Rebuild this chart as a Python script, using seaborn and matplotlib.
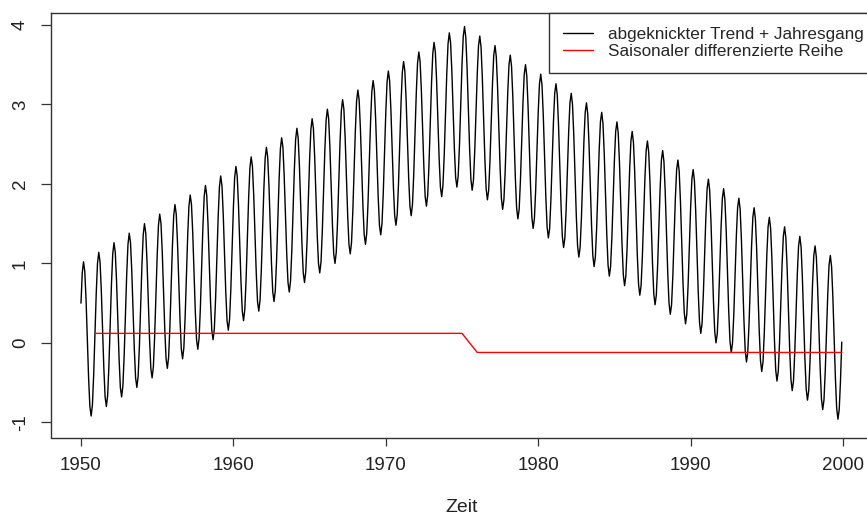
import numpy as np
import pandas as pd
import matplotlib
matplotlib.use("Agg")
import matplotlib.pyplot as plt
import seaborn as sns

# Kinked trend: rises until 1975, falls back afterwards
knot_years = [1950, 1975, 2000]
knot_levels = [0.0, 3.0, 0.0]
# Monthly seasonal effect (Jahresgang), Jan..Dec
month_effect = [0.5, 0.87, 1.0, 0.87, 0.5, 0.0, -0.5, -0.87, -1.0, -0.87, -0.5, 0.0]
n_years = 50

x_ticks = [1950, 1960, 1970, 1980, 1990, 2000]
y_ticks = [-1, 0, 1, 2, 3, 4]
series_labels = ["abgeknickter Trend + Jahresgang", "Saisonaler differenzierte Reihe"]

# Monthly series and its lag-12 (seasonal) difference
zeit = knot_years[0] + np.arange(n_years * 12) / 12
reihe = np.interp(zeit, knot_years, knot_levels) + np.tile(month_effect, n_years)
diff12 = reihe[12:] - reihe[:-12]

df_raw = pd.DataFrame({"Zeit": zeit, "Wert": reihe})
df_diff = pd.DataFrame({"Zeit": zeit[12:], "Wert": diff12})

sns.set_theme(style="ticks")
plt.rcParams["font.family"] = ["Liberation Sans", "DejaVu Sans"]

W, H = 867, 515
fig = plt.figure(figsize=(W / 100, H / 100), dpi=100)
ax = fig.add_axes([50.5 / W, 1 - 437.5 / H, 823 / W, 424.5 / H])

sns.lineplot(data=df_raw, x="Zeit", y="Wert", ax=ax, color="black",
             lw=1.0, label=series_labels[0], estimator=None)
sns.lineplot(data=df_diff, x="Zeit", y="Wert", ax=ax, color="red",
             lw=1.0, label=series_labels[1], estimator=None)

ax.set_xlim(1948, 2002)
ax.set_ylim(-1.19, 4.15)
ax.set_xticks(x_ticks)
ax.set_xticklabels([str(t) for t in x_ticks], fontsize=13.5, color="#222222")
ax.set_yticks(y_ticks)
ax.set_yticklabels([str(t) for t in y_ticks], fontsize=13.5, color="#222222",
                   rotation=90, va="center")
ax.tick_params(axis="both", direction="out", width=0.9, color="#333333")
ax.tick_params(axis="y", length=7.4, pad=8)
ax.tick_params(axis="x", length=5.4, pad=8.5)
ax.set_xlabel("Zeit", fontsize=14, color="#222222", labelpad=18.5)
ax.set_ylabel("")
for s in ax.spines.values():
    s.set_visible(True)
    s.set_color("#333333")
    s.set_linewidth(1.0)

leg = ax.legend(loc="upper left", bbox_to_anchor=(549 / W, 1 - 13 / H),
                bbox_transform=fig.transFigure, borderaxespad=0,
                frameon=True, fancybox=False, framealpha=1, fontsize=12.3,
                handlelength=1.76, handletextpad=0.88, borderpad=0.8,
                labelspacing=0.15)
leg.get_frame().set_edgecolor("#333333")
leg.get_frame().set_linewidth(1.0)

fig.savefig("out.png", dpi=100)
